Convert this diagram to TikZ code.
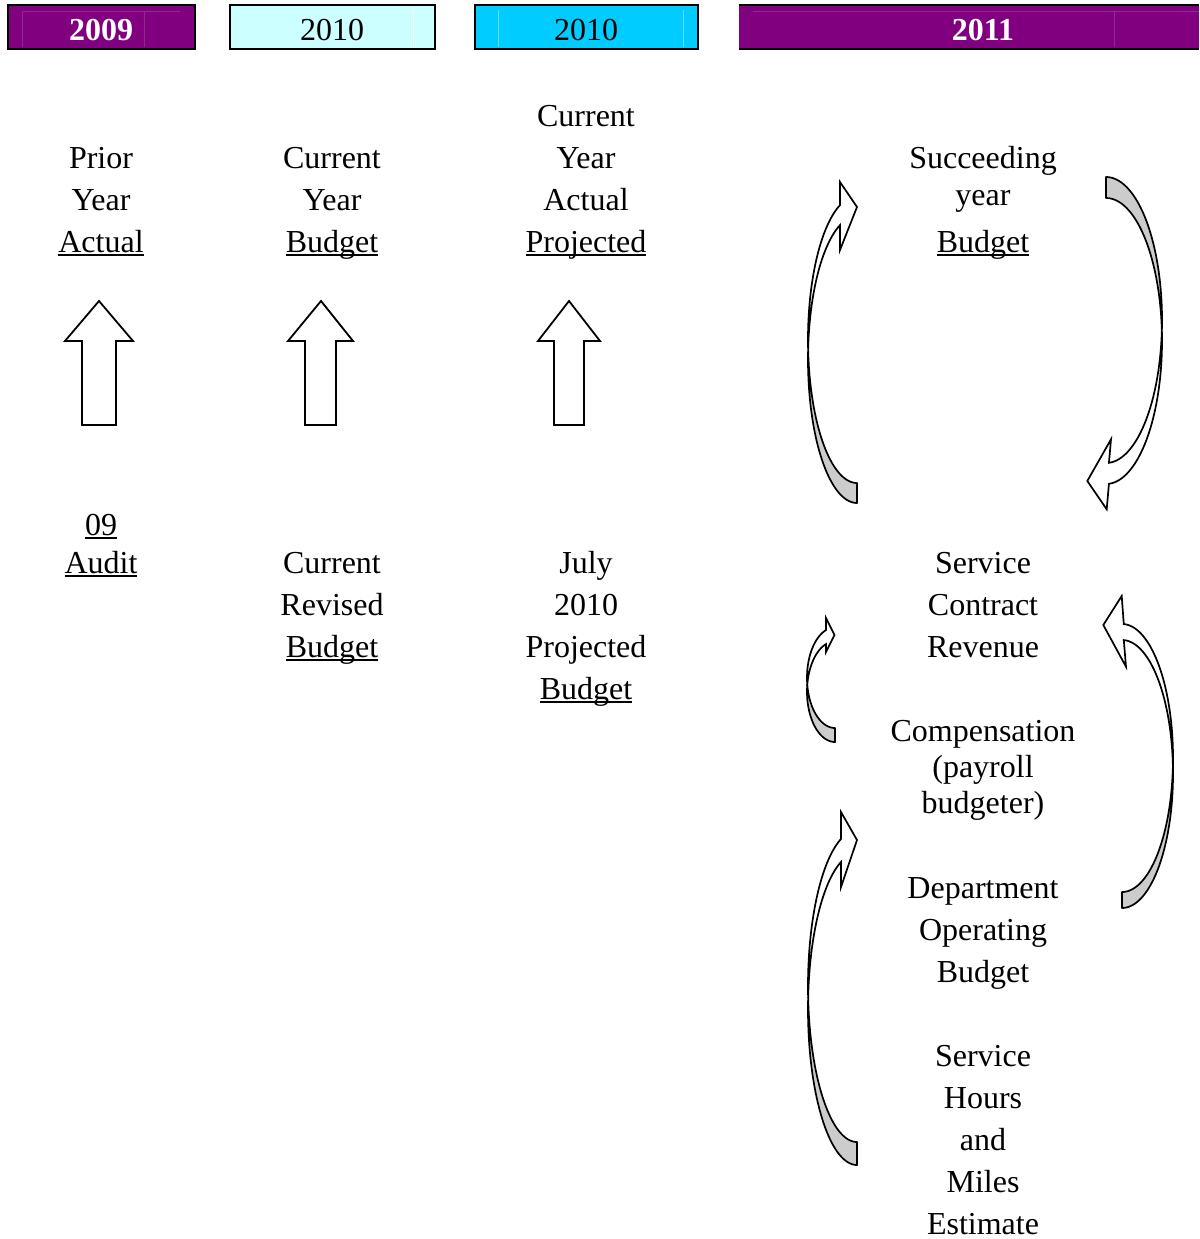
\documentclass[tikz,border=0pt]{standalone}
\usepackage{fontspec}
\setmainfont{Liberation Serif}
\definecolor{hpurple}{HTML}{800080}
\definecolor{hpurplel}{HTML}{8E2A8E}
\definecolor{hlcyan}{HTML}{CCFFFF}
\definecolor{hcyan}{HTML}{00CCFF}
\definecolor{hcyanl}{HTML}{60DCFF}
\definecolor{agrey}{HTML}{CCCCCC}
\newcommand\myul[1]{\setbox0=\hbox{#1}\rlap{\rule[-3.5pt]{\wd0}{1.6pt}}\box0}
\newcommand\tline[4]{\node[txt] (#1) at (#2,#3) {#4};}
\begin{document}
\begin{tikzpicture}[x=1pt,y=-1pt,
 txt/.style={anchor=base, inner sep=0pt, font=\fontsize{32}{38}\selectfont},
 hdr/.style={inner sep=0pt, font=\fontsize{32}{38}\selectfont},
 hbox/.style={draw=black, line width=2.4pt},
 faint/.style={line width=0.7pt},
 uparrow/.style={draw=black, fill=white, line width=1.8pt, line join=miter},
 back/.style={draw=black, fill=agrey, line width=1.7pt, line join=round},
 front/.style={draw=black, fill=white, line width=1.7pt, line join=miter},
]
\useasboundingbox (0,0) rectangle (1199,1239);
\fill[white] (0,0) rectangle (1199,1239);

% ---- header bars
\path[hbox, fill=hpurple] (8,5) rectangle (195,49);
\draw[faint, hpurplel] (22,11) -- (180,11) (22,11) -- (22,47) (144,11) -- (144,47);
\draw[hbox] (8,5) rectangle (195,49);
\node[hdr, text=white, font=\fontsize{32}{38}\selectfont\bfseries] (h2009) at (101,30.5) {2009};

\path[hbox, fill=hlcyan] (230,5) rectangle (435,49);
\draw[faint, white] (413,8) -- (413,47);
\draw[hbox] (230,5) rectangle (435,49);
\node[hdr] (h2010a) at (332,30.5) {2010};

\path[fill=hcyan] (475,5) rectangle (698,49);
\draw[faint, hcyanl] (498,10) -- (498,47) (683,10) -- (683,47);
\draw[hbox] (475,5) rectangle (698,49);
\node[hdr] (h2010b) at (586,30.5) {2010};

\path[fill=hpurple] (739,5) rectangle (1199,49);
\draw[faint, hpurplel] (753,11) -- (1199,11) (1114,11) -- (1114,47);
\draw[line width=2.4pt] (739,5) -- (1199,5) (739,49) -- (1199,49);
\node[hdr, text=white, font=\fontsize{32}{38}\selectfont\bfseries] (h2011) at (983,30.5) {2011};

% ---- column 1
\tline{c1a}{101}{168}{Prior}
\tline{c1b}{101}{210}{Year}
\tline{c1c}{101}{252}{\myul{Actual}}
\tline{c1d}{101}{535}{\myul{09}}
\tline{c1e}{101}{573}{\myul{Audit}}
% ---- column 2
\tline{c2a}{332}{168}{Current}
\tline{c2b}{332}{210}{Year}
\tline{c2c}{332}{252}{\myul{Budget}}
\tline{c2d}{332}{573}{Current}
\tline{c2e}{332}{615}{Revised}
\tline{c2f}{332}{657}{\myul{Budget}}
% ---- column 3
\tline{c3a}{586}{126}{Current}
\tline{c3b}{586}{168}{Year}
\tline{c3c}{586}{210}{Actual}
\tline{c3d}{586}{252}{\myul{Projected}}
\tline{c3e}{586}{573}{July}
\tline{c3f}{586}{615}{2010}
\tline{c3g}{586}{657}{Projected}
\tline{c3h}{586}{699}{\myul{Budget}}
% ---- column 4
\tline{c4a}{983}{168}{Succeeding}
\tline{c4b}{983}{205}{year}
\tline{c4c}{983}{252}{\myul{Budget}}
\tline{c4d}{983}{573}{Service}
\tline{c4e}{983}{615}{Contract}
\tline{c4f}{983}{657}{Revenue}
\tline{c4g}{983}{741}{Compensation}
\tline{c4h}{983}{777}{(payroll}
\tline{c4i}{983}{813}{budgeter)}
\tline{c4j}{983}{898}{Department}
\tline{c4k}{983}{940}{Operating}
\tline{c4l}{983}{982}{Budget}
\tline{c4m}{983}{1066}{Service}
\tline{c4n}{983}{1108}{Hours}
\tline{c4o}{983}{1150}{and}
\tline{c4p}{983}{1192}{Miles}
\tline{c4q}{983}{1234}{Estimate}

% ---- block up arrows
\path[uparrow] (99,301) -- (133,341) -- (116,341) -- (116,425) -- (82,425) -- (82,341) -- (65,341) -- cycle;
\path[uparrow] (321,301) -- (353,341) -- (336,341) -- (336,425) -- (305,425) -- (305,341) -- (288,341) -- cycle;
\path[uparrow] (569,301) -- (600,341) -- (584,341) -- (584,425) -- (554,425) -- (554,341) -- (538,341) -- cycle;

% ---- curved arrow L1 (upper left of 2011 column)
\path[back] plot[domain=90:184,samples=40,variable=\t] ({857+49*cos(\t)},{359.6+143.4*sin(\t)})
  -- plot[domain=176:90,samples=40,variable=\t] ({857+49*cos(\t)},{339.6+143.4*sin(\t)}) -- cycle;
\path[front] plot[domain=176:249.7,samples=40,variable=\t] ({857+49*cos(\t)},{339.6+143.4*sin(\t)})
  -- (840,182) -- (857,207) -- (840,250)
  -- plot[domain=249.7:184,samples=40,variable=\t] ({857+49*cos(\t)},{359.6+143.4*sin(\t)}) -- cycle;

% ---- curved arrow R1 (upper right)
\path[back] plot[domain=-90:4.2,samples=40,variable=\t] ({1106+56*cos(\t)},{320+143*sin(\t)})
  -- plot[domain=-4.2:-90,samples=40,variable=\t] ({1106+56*cos(\t)},{341+143*sin(\t)}) -- cycle;
\path[front] plot[domain=4.2:87,samples=40,variable=\t] ({1106+56*cos(\t)},{320+143*sin(\t)})
  -- (1111,439.3) -- (1087.3,481) -- (1106.7,509.3)
  -- plot[domain=87:-4.2,samples=40,variable=\t] ({1106+56*cos(\t)},{341+143*sin(\t)}) -- cycle;

% ---- curved arrow L2 (small)
\path[back] plot[domain=90:188,samples=30,variable=\t] ({835+28*cos(\t)},{691.7+50.3*sin(\t)})
  -- plot[domain=172:90,samples=30,variable=\t] ({835+28*cos(\t)},{677.7+50.3*sin(\t)}) -- cycle;
\path[front] plot[domain=172:251.3,samples=30,variable=\t] ({835+28*cos(\t)},{677.7+50.3*sin(\t)})
  -- (826,618) -- (834.5,635) -- (826,652)
  -- plot[domain=251.3:188,samples=30,variable=\t] ({835+28*cos(\t)},{691.7+50.3*sin(\t)}) -- cycle;

% ---- curved arrow L3 (lower left)
\path[back] plot[domain=90:184.2,samples=40,variable=\t] ({857+49*cos(\t)},{1009.2+155.8*sin(\t)})
  -- plot[domain=175.8:90,samples=40,variable=\t] ({857+49*cos(\t)},{986.2+155.8*sin(\t)}) -- cycle;
\path[front] plot[domain=175.8:250.9,samples=40,variable=\t] ({857+49*cos(\t)},{986.2+155.8*sin(\t)})
  -- (841,812) -- (857,840) -- (841,887)
  -- plot[domain=250.9:184.2,samples=40,variable=\t] ({857+49*cos(\t)},{1009.2+155.8*sin(\t)}) -- cycle;

% ---- curved arrow R2 (lower right)
\path[back] plot[domain=90:-3.4,samples=40,variable=\t] ({1122+51*cos(\t)},{774+134*sin(\t)})
  -- plot[domain=3.4:90,samples=40,variable=\t] ({1122+51*cos(\t)},{758+134*sin(\t)}) -- cycle;
\path[front] plot[domain=-3.4:-88,samples=40,variable=\t] ({1122+51*cos(\t)},{774+134*sin(\t)})
  -- (1126,666.7) -- (1103.3,625) -- (1121.7,596)
  -- plot[domain=-88:3.4,samples=40,variable=\t] ({1122+51*cos(\t)},{758+134*sin(\t)}) -- cycle;
\end{tikzpicture}
\end{document}
